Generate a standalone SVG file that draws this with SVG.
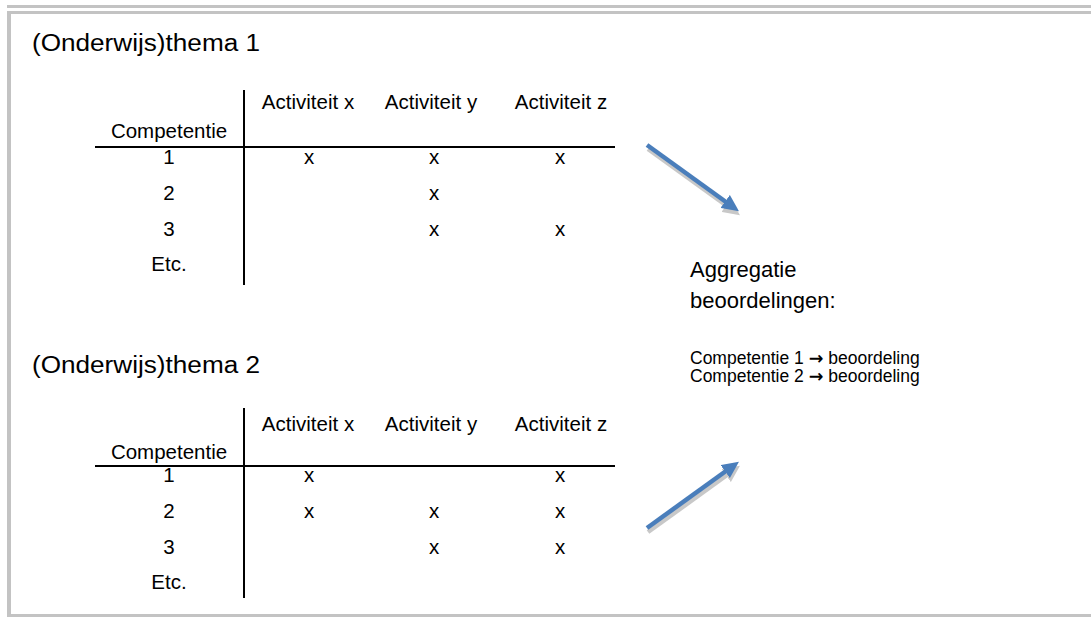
<svg xmlns="http://www.w3.org/2000/svg" width="1091" height="618" viewBox="0 0 1091 618">
<style>
text{font-family:"Liberation Sans",Arial,sans-serif;fill:#000}
.title{font-size:23.5px}
.t{font-size:20.5px}
.c{text-anchor:middle}
.big{font-size:22px}
.small{font-size:17.5px}
.arr{font-family:"DejaVu Sans",sans-serif;font-weight:bold}
.rule{stroke:#000;stroke-width:2}
.frame{fill:#c3c3c3}
.shaft{stroke:#4a7ebb;stroke-width:4.5;fill:none}
.shadow{stroke:#c8c8c8;stroke-width:4.5;fill:none}
</style>
<defs>
<marker id="head" markerUnits="userSpaceOnUse" markerWidth="17" markerHeight="16" viewBox="0 0 17 16" refX="1" refY="8" orient="auto"><path d="M0,0 L17,8 L0,16 z" fill="#4a7ebb"/></marker>
<marker id="headShadow" markerUnits="userSpaceOnUse" markerWidth="17" markerHeight="16" viewBox="0 0 17 16" refX="1" refY="8" orient="auto"><path d="M0,0 L17,8 L0,16 z" fill="#c8c8c8"/></marker>
</defs>
<rect width="1091" height="618" fill="#fff"/>
<g id="frame">
<rect class="frame" x="7" y="5" width="1084" height="3"/>
<rect class="frame" x="7" y="11" width="1084" height="3"/>
<rect class="frame" x="7" y="11" width="4" height="606"/>
<rect class="frame" x="7" y="614" width="1084" height="3"/>
</g>
<g id="thema1">
<text class="title" x="32" y="51" textLength="228" lengthAdjust="spacingAndGlyphs">(Onderwijs)thema 1</text>
<line class="rule" x1="244" y1="90" x2="244" y2="285"/>
<line class="rule" x1="95" y1="147" x2="615" y2="147"/>
<text class="t c" x="308" y="109">Activiteit x</text>
<text class="t c" x="431" y="109">Activiteit y</text>
<text class="t c" x="561" y="109">Activiteit z</text>
<text class="t c" x="169" y="138">Competentie</text>
<text class="t c" x="169" y="164">1</text>
<text class="t c" x="169" y="200">2</text>
<text class="t c" x="169" y="236">3</text>
<text class="t c" x="169" y="271">Etc.</text>
<text class="t c" x="309" y="164">x</text>
<text class="t c" x="434" y="164">x</text>
<text class="t c" x="560" y="164">x</text>
<text class="t c" x="434" y="200">x</text>
<text class="t c" x="434" y="236">x</text>
<text class="t c" x="560" y="236">x</text>
</g>
<g id="thema2">
<text class="title" x="32" y="373" textLength="228" lengthAdjust="spacingAndGlyphs">(Onderwijs)thema 2</text>
<line class="rule" x1="244" y1="408" x2="244" y2="598"/>
<line class="rule" x1="95" y1="466" x2="615" y2="466"/>
<text class="t c" x="308" y="431">Activiteit x</text>
<text class="t c" x="431" y="431">Activiteit y</text>
<text class="t c" x="561" y="431">Activiteit z</text>
<text class="t c" x="169" y="459">Competentie</text>
<text class="t c" x="169" y="482">1</text>
<text class="t c" x="169" y="518">2</text>
<text class="t c" x="169" y="554">3</text>
<text class="t c" x="169" y="589">Etc.</text>
<text class="t c" x="309" y="482">x</text>
<text class="t c" x="560" y="482">x</text>
<text class="t c" x="309" y="518">x</text>
<text class="t c" x="434" y="518">x</text>
<text class="t c" x="560" y="518">x</text>
<text class="t c" x="434" y="554">x</text>
<text class="t c" x="560" y="554">x</text>
</g>
<g id="aggregatie">
<text class="big" x="690" y="277">Aggregatie</text>
<text class="big" x="690" y="308">beoordelingen:</text>
<text class="small" x="690" y="364">Competentie 1 <tspan class="arr">→</tspan> beoordeling</text>
<text class="small" x="690" y="382">Competentie 2 <tspan class="arr">→</tspan> beoordeling</text>
</g>
<g id="connectors">
<line class="shadow" x1="648" y1="149" x2="727" y2="206" marker-end="url(#headShadow)"/>
<line class="shaft" x1="647" y1="145" x2="726" y2="202" marker-end="url(#head)"/>
<line class="shadow" x1="648" y1="532" x2="727" y2="475" marker-end="url(#headShadow)"/>
<line class="shaft" x1="647" y1="528" x2="726" y2="471" marker-end="url(#head)"/>
</g>
</svg>
